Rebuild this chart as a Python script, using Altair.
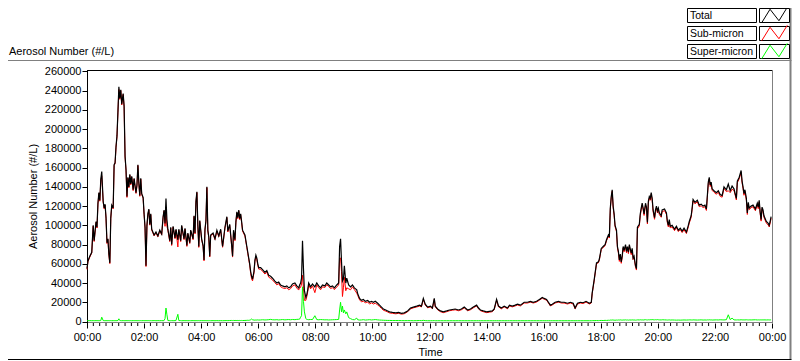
import altair as alt
import pandas as pd

# ---- data (minutes after 00:00) ----
minutes = [
    0, 2, 6, 10, 13, 15, 19, 21, 23, 25,
    27, 29, 31, 34, 36, 38, 40, 42, 44, 46,
    48, 50, 52, 55, 57, 59, 61, 63, 65, 67,
    69, 71, 73, 76, 78, 80, 82, 84, 86, 88,
    90, 92, 94, 97, 99, 101, 103, 105, 107, 109,
    111, 113, 115, 118, 120, 122, 124, 126, 128, 130,
    132, 134, 136, 141, 145, 149, 153, 157, 160, 162,
    164, 166, 168, 170, 174, 176, 178, 181, 185, 187,
    191, 193, 197, 199, 204, 206, 210, 212, 216, 218,
    223, 225, 227, 229, 231, 233, 235, 237, 241, 244,
    246, 248, 250, 252, 254, 256, 258, 260, 265, 269,
    273, 277, 281, 285, 290, 294, 296, 300, 304, 306,
    308, 311, 313, 315, 317, 319, 321, 323, 325, 327,
    332, 336, 338, 340, 342, 344, 346, 348, 351, 353,
    355, 357, 359, 361, 365, 369, 374, 378, 382, 386,
    390, 395, 399, 403, 407, 411, 416, 420, 424, 428,
    432, 437, 441, 445, 447, 449, 451, 453, 455, 457,
    460, 462, 464, 466, 470, 474, 479, 483, 487, 491,
    495, 500, 504, 508, 512, 516, 520, 525, 529, 531,
    533, 535, 537, 539, 541, 544, 546, 550, 554, 558,
    562, 567, 569, 573, 577, 581, 585, 590, 594, 598,
    602, 606, 611, 615, 619, 623, 628, 632, 636, 642,
    649, 655, 661, 667, 674, 680, 686, 693, 699, 703,
    707, 711, 716, 722, 726, 730, 732, 737, 743, 749,
    756, 762, 768, 774, 781, 787, 793, 800, 806, 812,
    819, 823, 827, 833, 840, 846, 852, 856, 861, 865,
    871, 877, 884, 888, 894, 900, 905, 911, 919, 926,
    932, 938, 945, 951, 957, 961, 966, 970, 974, 978,
    984, 991, 997, 1003, 1010, 1016, 1022, 1026, 1031, 1037,
    1043, 1049, 1056, 1060, 1062, 1066, 1071, 1075, 1077, 1081,
    1085, 1089, 1092, 1096, 1098, 1100, 1102, 1104, 1106, 1108,
    1110, 1113, 1115, 1117, 1119, 1121, 1123, 1125, 1127, 1129,
    1132, 1134, 1136, 1138, 1140, 1144, 1146, 1148, 1150, 1153,
    1155, 1157, 1161, 1163, 1165, 1167, 1169, 1171, 1174, 1176,
    1178, 1180, 1182, 1184, 1186, 1188, 1190, 1193, 1195, 1197,
    1199, 1201, 1203, 1207, 1209, 1214, 1218, 1220, 1222, 1224,
    1226, 1230, 1235, 1239, 1243, 1247, 1251, 1255, 1260, 1264,
    1266, 1270, 1272, 1274, 1278, 1283, 1287, 1291, 1295, 1299,
    1302, 1304, 1306, 1308, 1310, 1312, 1314, 1318, 1323, 1327,
    1331, 1335, 1339, 1344, 1348, 1352, 1356, 1360, 1365, 1367,
    1371, 1375, 1377, 1379, 1381, 1383, 1386, 1388, 1390, 1392,
    1396, 1400, 1405, 1409, 1411, 1413, 1415, 1417, 1419, 1421,
    1423, 1428, 1432, 1434, 1436, 1438,
]

total = [
    55000, 63000, 68000, 72000, 100000, 84000, 104000, 98000, 123000, 134000,
    126000, 148000, 156000, 125000, 118000, 122000, 108000, 82000, 86000, 70000,
    61000, 108000, 121000, 118000, 163000, 165000, 182000, 193000, 218000, 244000,
    232000, 241000, 226000, 237000, 224000, 172000, 158000, 130000, 150000, 140000,
    153000, 143000, 151000, 137000, 149000, 141000, 134000, 142000, 163000, 144000,
    131000, 149000, 133000, 129000, 112000, 98000, 58000, 100000, 112000, 117000,
    101000, 112000, 96000, 90000, 93000, 89000, 95000, 91000, 109000, 116000,
    102000, 128000, 106000, 96000, 84000, 98000, 80000, 99000, 87000, 96000,
    85000, 96000, 84000, 100000, 86000, 97000, 79000, 92000, 82000, 95000,
    86000, 110000, 92000, 125000, 135000, 100000, 78000, 105000, 86000, 79000,
    64000, 96000, 105000, 140000, 95000, 88000, 68000, 90000, 92000, 86000,
    95000, 89000, 96000, 78000, 98000, 109000, 94000, 101000, 80000, 68000,
    95000, 85000, 104000, 114000, 108000, 116000, 107000, 112000, 104000, 95000,
    90000, 78000, 72000, 66000, 60000, 52000, 47000, 44000, 52000, 64000,
    69000, 66000, 60000, 56000, 56000, 54000, 51000, 53000, 48000, 47000,
    45000, 42000, 40000, 41000, 38000, 37000, 36000, 37000, 35000, 36000,
    39000, 40000, 37000, 35000, 38000, 40000, 45000, 84000, 55000, 32000,
    25000, 28000, 33000, 40000, 36000, 39000, 36000, 40000, 37000, 35000,
    38000, 37000, 40000, 38000, 36000, 37000, 35000, 38000, 40000, 78000,
    86000, 62000, 42000, 44000, 58000, 40000, 45000, 38000, 36000, 38000,
    35000, 33000, 29000, 24000, 22000, 23000, 21000, 22000, 20000, 21000,
    20000, 21000, 19000, 17000, 15000, 13000, 12000, 11000, 10000, 9500,
    9000, 9500, 8500, 9000, 11000, 14000, 15000, 16000, 17000, 16000,
    24000, 18000, 15000, 16000, 14000, 24000, 16000, 13000, 11000, 10000,
    11000, 12000, 12500, 13000, 12000, 13000, 15000, 12000, 13000, 15000,
    17000, 14000, 12000, 11000, 10000, 10500, 11000, 13000, 23000, 16000,
    14000, 16000, 14000, 17000, 16000, 17000, 18000, 17000, 20000, 20000,
    21000, 20000, 21000, 23000, 25000, 24000, 23000, 20000, 17000, 18000,
    20000, 21000, 20000, 20000, 19000, 20000, 19000, 14000, 19000, 20000,
    19500, 21000, 19000, 20000, 30000, 43000, 61000, 62000, 65000, 76000,
    78000, 80000, 85000, 90000, 88000, 118000, 130000, 137000, 120000, 112000,
    100000, 95000, 78000, 73000, 64000, 70000, 62000, 68000, 78000, 74000,
    80000, 73000, 78000, 72000, 80000, 71000, 76000, 66000, 68000, 58000,
    55000, 98000, 101000, 112000, 118000, 123000, 118000, 112000, 123000, 119000,
    103000, 125000, 130000, 128000, 134000, 128000, 116000, 108000, 116000, 120000,
    115000, 118000, 113000, 110000, 116000, 117000, 113000, 104000, 100000, 106000,
    99000, 100000, 96000, 99000, 95000, 97000, 94000, 97000, 93000, 100000,
    104000, 110000, 118000, 127000, 124000, 126000, 121000, 122000, 120000, 121000,
    117000, 131000, 145000, 150000, 142000, 145000, 138000, 136000, 134000, 136000,
    132000, 131000, 140000, 137000, 143000, 136000, 141000, 138000, 128000, 146000,
    150000, 157000, 146000, 140000, 133000, 137000, 128000, 113000, 124000, 118000,
    120000, 121000, 117000, 123000, 119000, 126000, 114000, 106000, 119000, 116000,
    110000, 104000, 102000, 100000, 104000, 109000,
]

super_micron = [
    800, 800, 900, 800, 900, 800, 900, 800, 900, 800,
    900, 1000, 4500, 1000, 800, 900, 800, 900, 800, 900,
    800, 900, 800, 900, 800, 900, 800, 900, 1000, 2800,
    1000, 900, 800, 900, 800, 900, 800, 900, 800, 900,
    800, 900, 800, 900, 800, 900, 800, 900, 800, 900,
    800, 900, 800, 900, 800, 900, 800, 900, 800, 900,
    800, 900, 800, 900, 800, 900, 800, 900, 800, 1000,
    3000, 14000, 7000, 1000, 900, 800, 900, 800, 900, 1000,
    7500, 1000, 900, 800, 900, 800, 900, 800, 900, 800,
    900, 800, 900, 800, 900, 800, 900, 800, 900, 800,
    900, 800, 900, 800, 900, 800, 900, 800, 900, 800,
    900, 800, 900, 800, 900, 1000, 900, 1000, 1100, 1000,
    1100, 1000, 1100, 1000, 1100, 1000, 1100, 1000, 1100, 1000,
    1100, 1200, 1300, 1200, 1400, 1800, 2600, 1800, 1500, 1400,
    1600, 1500, 1700, 1500, 1600, 1800, 1600, 1700, 1900, 2200,
    1800, 1700, 1900, 1600, 1800, 2000, 1700, 1900, 2000, 1800,
    2100, 1900, 2200, 2300, 2500, 4500, 6000, 36000, 21000, 10000,
    3000, 2200, 2000, 1900, 2100, 2000, 6000, 2000, 1800, 2000,
    1900, 1700, 1800, 1600, 1700, 1800, 1900, 2000, 2200, 12000,
    20000, 10000, 16000, 9000, 12000, 8000, 10000, 4000, 3000, 2000,
    1800, 3500, 1800, 1500, 1600, 1900, 1500, 1700, 1900, 1600,
    1800, 2000, 1700, 1500, 1400, 1300, 1200, 1100, 1100, 1000,
    1000, 1000, 900, 900, 900, 900, 800, 900, 1000, 900,
    1200, 900, 800, 800, 800, 900, 800, 800, 800, 800,
    800, 800, 800, 800, 800, 800, 800, 800, 800, 800,
    800, 800, 800, 800, 800, 800, 800, 800, 800, 800,
    800, 800, 800, 800, 800, 800, 800, 800, 800, 800,
    800, 800, 800, 800, 800, 800, 800, 800, 800, 800,
    800, 800, 800, 800, 800, 800, 800, 800, 800, 800,
    800, 800, 800, 800, 900, 900, 1000, 900, 1000, 1100,
    1000, 1200, 1100, 1300, 1200, 1500, 1400, 1600, 1500, 1400,
    1300, 1500, 1400, 1600, 1500, 1700, 1500, 1400, 1600, 1500,
    1700, 1500, 1600, 1400, 1600, 1500, 1700, 1500, 1600, 1400,
    1500, 1700, 1600, 1800, 1600, 1700, 1500, 1700, 1900, 1700,
    1600, 1800, 1700, 1900, 1800, 2000, 1800, 1700, 1900, 1800,
    2000, 1800, 1700, 1600, 1800, 1700, 1600, 1500, 1600, 1700,
    1500, 1600, 1500, 1400, 1500, 1400, 1500, 1600, 1500, 1600,
    1700, 1600, 1500, 1700, 1600, 1500, 1600, 1700, 1500, 1600,
    1500, 1700, 1600, 1800, 1600, 1700, 1500, 1600, 1700, 1600,
    1800, 1700, 1600, 1900, 7000, 2000, 3500, 1700, 1600, 1700,
    1600, 1800, 1700, 1600, 1700, 1600, 1800, 1700, 1600, 1700,
    1600, 1700, 1800, 1600, 1700, 1600, 1700, 1600, 1700, 1600,
    1700, 1600, 1700, 1600, 1700, 1600,
]

series_names = ["Total", "Sub-micron", "Super-micron"]
series_colors = ["#000000", "#ff0000", "#00ff00"]
y_ticks = [0, 20000, 40000, 60000, 80000, 100000, 120000, 140000, 160000, 180000, 200000, 220000, 240000, 260000]
x_major = [0, 120, 240, 360, 480, 600, 720, 840, 960, 1080, 1200, 1320, 1440]
x_minor = [round(i * 40 / 3, 3) for i in range(109) if i % 9]

assert len(minutes) == len(total) == len(super_micron)

df = pd.DataFrame({"minute": minutes, "total": total, "super": super_micron})
# Total = Sub-micron + Super-micron
df["sub"] = df["total"] - df["super"]

W, H = 686, 253
PAD_L, PAD_T, PAD_R, PAD_B = 79, 62, 19, 38
FONT = "Liberation Sans"
FS = 11

xs = alt.Scale(domain=[0, 1442], nice=False, zero=False)
ys = alt.Scale(domain=[-1560, 261560], nice=False, zero=False)

label_expr = ("(floor(datum.value/60)%24 < 10 ? '0' : '') + "
              "(floor(datum.value/60)%24) + ':00'")

xaxis = alt.Axis(values=x_major, labelExpr=label_expr, tickSize=5, tickColor="black",
                 domain=False, grid=False, title="Time", titleX=343, titleY=29,
                 titleBaseline="middle", titleAlign="center", labelPadding=3,
                 labelFlush=False, labelOverlap=False)
yaxis = alt.Axis(values=y_ticks, format="d", tickSize=5, tickColor="black",
                 domain=False, grid=False, title="Aerosol Number (#/L)",
                 titleX=-54, titleY=126, titleAngle=270, titleBaseline="middle",
                 titleAlign="center", labelPadding=1, labelFlush=False, labelOverlap=False)

one = pd.DataFrame({"a": [0]})


def series_line(field, color, width=1.0):
    return alt.Chart(df).mark_line(color=color, strokeWidth=width).encode(
        x=alt.X("minute:Q", scale=xs, axis=xaxis),
        y=alt.Y(f"{field}:Q", scale=ys, axis=yaxis),
    )


def rule(x1, x2, y1, y2, color, width=1):
    return alt.Chart(one).mark_rule(color=color, strokeWidth=width).encode(
        x=alt.value(x1), x2=alt.value(x2), y=alt.value(y1), y2=alt.value(y2))


right_edge = W + PAD_R - 1.5  # inside the drawing
bottom_edge = H + PAD_B - 1.5

layers = []
# outer frame
layers.append(rule(-PAD_L, right_edge + 1, -9.5, -9.5, "#808080"))
layers.append(rule(right_edge, right_edge, -PAD_T, bottom_edge, "#808080", 2))
layers.append(rule(-PAD_L, right_edge + 1, bottom_edge, bottom_edge, "#000000"))
# plot area border
layers.append(rule(0, W, 0.5, 0.5, "#000000"))
layers.append(rule(W - 0.5, W - 0.5, 0, H, "#808080"))
layers.append(rule(0, W, H - 0.5, H - 0.5, "#808080"))
layers.append(rule(0.5, 0.5, 0, H + 4, "#000000"))

# minor x ticks
layers.append(alt.Chart(pd.DataFrame({"m": x_minor})).mark_rule(color="black").encode(
    x=alt.X("m:Q", scale=xs, axis=xaxis), y=alt.value(H), y2=alt.value(H + 3)))

# series
layers.append(series_line("sub", series_colors[1], 1.0))
layers.append(series_line("total", series_colors[0], 1.2))
layers.append(series_line("super", series_colors[2], 1.0))

# plot name label (top-left)
layers.append(alt.Chart(one).mark_text(align="left", baseline="middle", font=FONT,
                                       fontSize=FS, color="black").encode(
    x=alt.value(-PAD_L + 1), y=alt.value(-18), text=alt.value("Aerosol Number (#/L)")))

# legend (top-right)
swatch = "M-1,0.6L-0.35,-0.45L0.35,0.45L1,-0.6"
LX = 600.5
for i, (name, col) in enumerate(zip(series_names, series_colors)):
    cy = -54.5 + i * 18
    layers.append(alt.Chart(one).mark_rect(fill="white", stroke="black", strokeWidth=1).encode(
        x=alt.value(LX), x2=alt.value(LX + 69), y=alt.value(cy - 7), y2=alt.value(cy + 7)))
    layers.append(alt.Chart(one).mark_rect(fill="white", stroke="black", strokeWidth=1).encode(
        x=alt.value(LX + 72), x2=alt.value(LX + 102), y=alt.value(cy - 7), y2=alt.value(cy + 7)))
    layers.append(alt.Chart(one).mark_text(align="left", baseline="middle", font=FONT,
                                           fontSize=10.5, color="black").encode(
        x=alt.value(LX + 2.5), y=alt.value(cy + 0.5), text=alt.value(name)))
    layers.append(alt.Chart(one).mark_point(shape=swatch, size=650, filled=False, color=col,
                                            strokeWidth=1, opacity=1).encode(
        x=alt.value(LX + 87), y=alt.value(cy - 0.5)))

chart = alt.layer(*layers).properties(
    width=W, height=H,
    autosize=alt.AutoSizeParams(type="none"),
    padding={"left": PAD_L, "top": PAD_T, "right": PAD_R, "bottom": PAD_B},
    background="white",
).configure_view(stroke=None).configure_axis(
    labelFont=FONT, labelFontSize=FS, titleFont=FONT, titleFontSize=FS,
    titleFontWeight="normal", labelColor="black", titleColor="black",
)

chart.save("out.html", embed_options={"renderer": "svg", "actions": False})
